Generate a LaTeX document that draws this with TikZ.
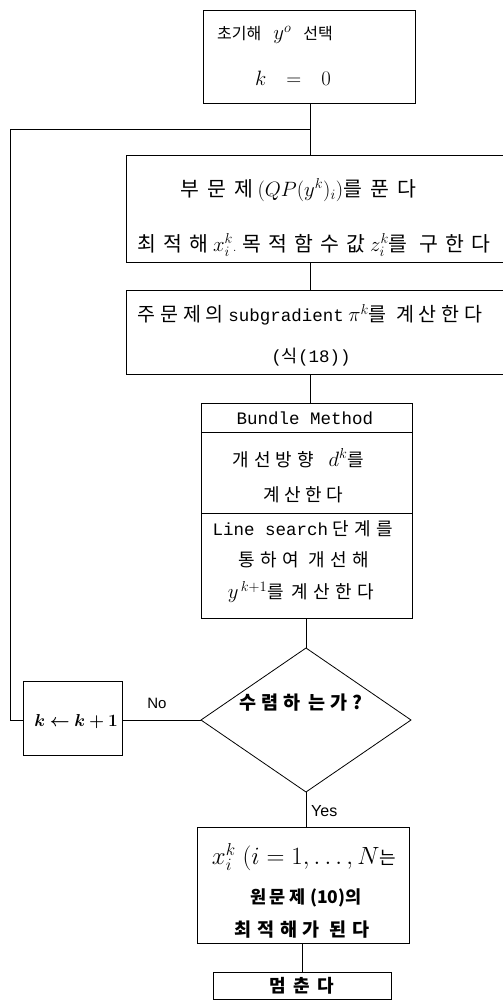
\documentclass[tikz,border=0pt]{standalone}
\usepackage{fontspec}
\usepackage{bm}
\newfontfamily\kr{Noto Sans CJK KR}
\newfontfamily\mono{Liberation Mono}
\newfontfamily\lsans{Liberation Sans}
\newcommand\KR[3]{{\fontsize{#1}{#1}\selectfont\kr\addfontfeature{LetterSpace=#2}#3}}
\newcommand\KB[3]{{\fontsize{#1}{#1}\selectfont\kr\bfseries\addfontfeature{LetterSpace=#2}#3}}
\newcommand\MM[1]{{\fontsize{21}{21}\selectfont$#1$}}
\newcommand\ML[1]{{\fontsize{23}{23}\selectfont$#1$}}
\newcommand\TT[1]{{\fontsize{17.5}{17.5}\selectfont\mono #1}}
\usetikzlibrary{shapes.geometric}
\begin{document}
\begin{tikzpicture}[x=1pt,y=-1pt,
  box/.style={draw, line width=0.8pt, inner sep=0pt, outer sep=0pt},
  dia/.style={draw, diamond, line width=0.8pt, inner sep=0pt, outer sep=0pt},
  txt/.style={inner sep=0pt, font=\fontsize{15}{18}\selectfont},
  ln/.style={line width=0.8pt}]
\useasboundingbox (0,0) rectangle (503,1001);

% boxes
\node[box, minimum width=212pt, minimum height=93pt] (b1) at (309,56.5) {};
\node[box, minimum width=382pt, minimum height=107pt] (b2) at (317,208.5) {};
\node[box, minimum width=382pt, minimum height=84pt] (b3) at (317,332) {};
\node[box, minimum width=211pt, minimum height=215pt] (b4) at (306.5,510.5) {};
\node[dia, minimum width=210pt, minimum height=144pt] (dec) at (306,720) {};
\node[box, minimum width=99pt, minimum height=74pt] (b5) at (72.5,718) {};
\node[box, minimum width=212pt, minimum height=116pt] (b6) at (303,885) {};
\node[box, minimum width=178pt, minimum height=27pt] (b7) at (302,985.5) {};
\coordinate (s1) at (b4.west |- 0,432);
\coordinate (s1e) at (b4.east |- 0,432);
\coordinate (s2) at (b4.west |- 0,513);
\coordinate (s2e) at (b4.east |- 0,513);
\draw[ln] (s1) -- (s1e);
\draw[ln] (s2) -- (s2e);

% texts
\node[txt] (t1a) at (275,35) {\KR{16}{0}{초기해}\hspace{12pt}\MM{y^{o}}\hspace{12pt}\KR{16}{0}{선택}};
\node[txt] (t1b) at (293,78) {\MM{k}\hspace{20pt}\MM{=}\hspace{20pt}\MM{0}};
\node[txt] (t2a) at (298,190) {\KR{20.5}{40}{부문제} \MM{(QP(y^k)_i)}\KR{20.5}{40}{를}\hspace{8pt}\KR{20.5}{40}{푼다}};
\node[txt] (t2b) at (314,245) {\KR{20.5}{35}{최적해} \MM{x^k_i}. \KR{20.5}{35}{목적함수값} \MM{z^k_i}\KR{20.5}{35}{를 구한다}};
\node[txt] (t3a) at (310,315) {\KR{19.5}{25}{주문제의} \TT{subgradient} \MM{\pi^k}\KR{19.5}{25}{를 계산한다}};
\node[txt] (t3b) at (311,357) {\TT{(}\KR{17.5}{0}{식}\TT{(18))}};
\node[txt] (t4a) at (305,418) {\TT{Bundle Method}};
\node[txt] (t4b) at (298,458) {\KR{18}{30}{개선방향}\hspace{14pt}\MM{d^k}\KR{18}{30}{를}};
\node[txt] (t4c) at (303,495) {\KR{18}{25}{계산한다}};
\node[txt] (t4d) at (303,529) {\TT{Line search} \KR{18}{30}{단계를}};
\node[txt] (t4e) at (304,560) {\KR{18}{30}{통하여}\hspace{10pt}\KR{18}{30}{개선해}};
\node[txt] (t4f) at (301,592) {\MM{y^{\,k+1}}\KR{18}{30}{를}\hspace{8pt}\KR{18}{30}{계산한다}};
\node[txt] (td) at (301,703) {\KB{18.5}{25}{수렴하 는가?}};
\node[txt] (tno) at (157,703) {\lsans No};
\node[txt] (t5) at (76,722) {\fontsize{19}{19}\selectfont$\bm{k\leftarrow k+1}$};
\node[txt, anchor=west] (tyes) at (311,811) {\fontsize{16}{16}\selectfont\lsans Yes};
\node[txt] (t6a) at (304,857) {\ML{x^k_i\ (i=1,\ldots,N}\KR{18}{0}{는}};
\node[txt] (t6b) at (306,898) {\KB{17.5}{20}{원문제} \KB{17.5}{0}{(10)}\KB{17.5}{0}{의}};
\node[txt] (t6c) at (302,930) {\KB{18.5}{30}{최적해가 된다}};
\node[txt] (t7) at (302,986) {\KB{18}{40}{멈춘다}};

% connectors
\coordinate (j) at (310,129);
\coordinate (c) at (10,129);
\draw[ln] (b1.south -| j) -- (b2.north -| j);
\draw[ln] (b2.south -| j) -- (b3.north -| j);
\draw[ln] (b3.south -| j) -- (b4.north -| j);
\draw[ln] (b4.south -| dec.north) -- (dec.north);
\draw[ln] (dec.west) -- (dec.west -| b5.east);
\draw[ln] (dec.west -| b5.west) -- (c |- dec.west) -- (c) -- (j);
\draw[ln] (dec.south) -- (dec.south |- b6.north);
\draw[ln] (b6.south -| b7.north) -- (b7.north);
\end{tikzpicture}
\end{document}
